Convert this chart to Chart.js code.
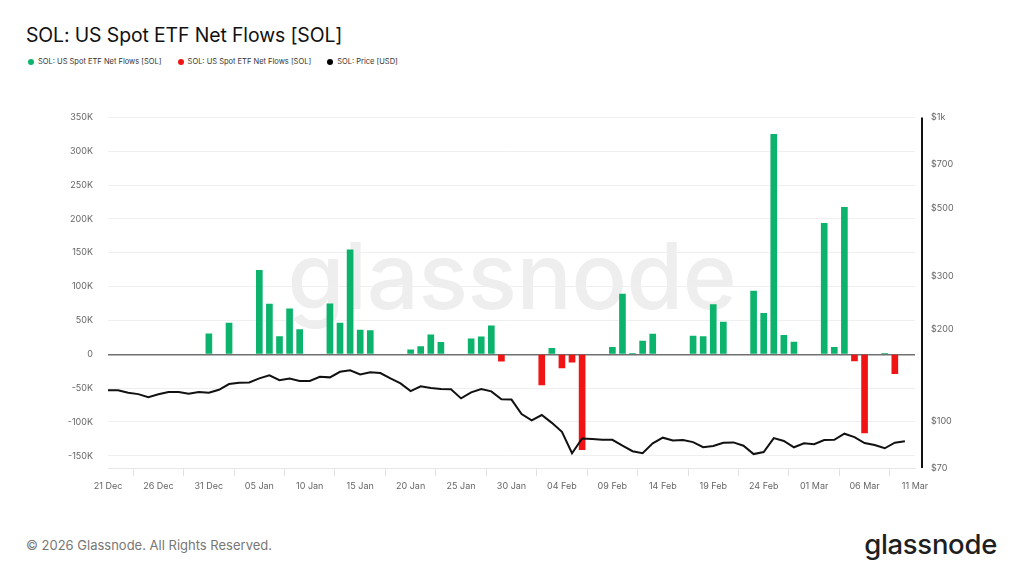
<!DOCTYPE html>
<html>
<head>
<meta charset="utf-8">
<script src="https://cdn.jsdelivr.net/npm/chart.js@4"></script>
<style>
    body { margin: 0; background: #fff; font-family: Inter, 'Noto Sans', sans-serif; }
    .page { position: relative; width: 1024px; height: 576px; overflow: hidden; background: #fff; }
    .title { position: absolute; left: 26px; top: 23px; font-size: 19.4px; color: #111; letter-spacing: -0.1px; }
    .legend { position: absolute; left: 28px; top: 57px; font-size: 7.5px; color: #333; display: flex; }
    .legend-item { display: flex; align-items: center; margin-right: 16px; }
    .dot { width: 6px; height: 6px; border-radius: 50%; margin-right: 4px; display: inline-block; }
    .watermark { position: absolute; left: 0; width: 1024px; top: 220px; text-align: center; font-size: 92px; font-weight: 500; color: #eeeeee; letter-spacing: -0.5px; }
    #chart { position: absolute; left: 0; top: 96px; }
    .footer { position: absolute; left: 26px; top: 537px; font-size: 13px; color: #777; }
    .logo { position: absolute; right: 27px; top: 527px; font-size: 27.5px; font-weight: 500; color: #1f1f1f; letter-spacing: -0.3px; }
</style>
</head>
<body>
<div class="page">
    <div class="title">SOL: US Spot ETF Net Flows [SOL]</div>
    <div class="legend">
        <div class="legend-item"><span class="dot" style="background:#0bb36c"></span>SOL: US Spot ETF Net Flows [SOL]</div>
        <div class="legend-item"><span class="dot" style="background:#f01414"></span>SOL: US Spot ETF Net Flows [SOL]</div>
        <div class="legend-item"><span class="dot" style="background:#000"></span>SOL: Price [USD]</div>
    </div>
    <div class="watermark">glassnode</div>
    <canvas id="chart" width="1024" height="410"></canvas>
    <div class="footer">© 2026 Glassnode. All Rights Reserved.</div>
    <div class="logo">glassnode</div>
</div>
<script>
// ===== DATA =====
// day index 0 = 21 Dec, one entry per day
const xTickDays = [0, 5, 10, 15, 20, 25, 30, 35, 40, 45, 50, 55, 60, 65, 70, 75, 80];
const xTickLabels = ['21 Dec', '26 Dec', '31 Dec', '05 Jan', '10 Jan', '15 Jan', '20 Jan', '25 Jan', '30 Jan',
    '04 Feb', '09 Feb', '14 Feb', '19 Feb', '24 Feb', '01 Mar', '06 Mar', '11 Mar'];

const flowTicks = [-150000, -100000, -50000, 0, 50000, 100000, 150000, 200000, 250000, 300000, 350000];
const priceTicks = [70, 100, 200, 300, 500, 700, 1000];

const netFlows = [
    null, null, null, null, null, null, null, null, null, null,
    30400, null, 46200, null, null, 124000, 74300, 26000, 67300, 36400,
    null, null, 74700, 46200, 154500, 35900, 34900, null, null, null,
    6500, 11400, 28600, 17700, null, null, 22700, 25700, 42000, -10300,
    null, null, null, -45200, 8900, -20000, -11800, -141000, null, null,
    10400, 89000, 1500, 19600, 30000, null, null, null, 27000, 26000,
    73300, 47700, null, null, 93500, 60500, 325000, 28000, 18200, null,
    null, 193400, 10300, 217000, -9800, -116000, null, 1000, -28600, null
];

const price = [
    126.2, 126.2, 123.8, 122.6, 119.8, 122.4, 124.5, 124.5, 122.9, 124.5,
    123.8, 126.7, 132.3, 133.6, 134.0, 138.1, 141.3, 136.3, 138.1, 135.5,
    135.5, 139.8, 139.2, 145.2, 146.8, 142.4, 144.6, 143.8, 138.1, 133.0,
    125.4, 130.0, 128.4, 127.4, 127.1, 118.7, 124.3, 127.4, 125.2, 117.9,
    117.6, 105.4, 100.4, 104.6, 98.6, 92.1, 78.3, 87.6, 87.2, 86.7,
    86.7, 82.9, 79.5, 78.3, 84.4, 88.1, 86.3, 86.5, 85.2, 82.0,
    82.7, 84.8, 85.0, 82.9, 77.8, 79.0, 87.8, 85.9, 81.9, 84.4,
    83.8, 86.5, 86.7, 90.8, 88.5, 84.6, 83.3, 81.3, 84.8, 85.7
];

// ===== BUILD DATASETS =====
const inflowPoints = netFlows.map((v, i) => ({ x: i, y: v !== null && v > 0 ? v : null }));
const outflowPoints = netFlows.map((v, i) => ({ x: i, y: v !== null && v < 0 ? v : null }));
const pricePoints = price.map((v, i) => ({ x: i, y: v }));

function formatFlow(v) {
    if (v === 0) return '0';
    return (v / 1000) + 'K';
}

// right axis line sits a bit outside the plot area
const rightAxisLine = {
    id: 'rightAxisLine',
    afterDraw(chart) {
        const { ctx, chartArea } = chart;
        ctx.save();
        ctx.strokeStyle = '#111';
        ctx.lineWidth = 2;
        ctx.beginPath();
        ctx.moveTo(chartArea.right + 7, chartArea.top);
        ctx.lineTo(chartArea.right + 7, chartArea.bottom);
        ctx.stroke();
        ctx.restore();
    }
};

const tickFont = { size: 9, family: "Inter, 'Noto Sans', sans-serif" };

new Chart(document.getElementById('chart'), {
    type: 'bar',
    data: {
        datasets: [
            {
                type: 'line',
                label: 'SOL: Price [USD]',
                data: pricePoints,
                yAxisID: 'yPrice',
                borderColor: '#111',
                borderWidth: 2,
                pointRadius: 0,
                tension: 0,
                order: 0
            },
            {
                label: 'SOL: US Spot ETF Net Flows [SOL]',
                data: inflowPoints,
                yAxisID: 'yFlow',
                backgroundColor: '#0bb36c',
                barThickness: 6,
                grouped: false,
                order: 1
            },
            {
                label: 'SOL: US Spot ETF Net Flows [SOL]',
                data: outflowPoints,
                yAxisID: 'yFlow',
                backgroundColor: '#f01414',
                barThickness: 6,
                grouped: false,
                order: 1
            }
        ]
    },
    options: {
        responsive: false,
        animation: false,
        layout: { padding: { top: 13, left: 0, right: 0, bottom: 0 } },
        plugins: {
            legend: { display: false },
            tooltip: { enabled: false }
        },
        scales: {
            x: {
                type: 'linear',
                min: 0,
                max: 80,
                offset: false,
                afterBuildTicks: (scale) => { scale.ticks = xTickDays.map(v => ({ value: v })); },
                afterFit: (scale) => { scale.height = 38; },
                grid: { drawOnChartArea: false, tickLength: 8, color: '#e2e2e2' },
                border: { color: '#e6e6e6' },
                ticks: {
                    color: '#666',
                    font: tickFont,
                    padding: 5,
                    maxRotation: 0,
                    autoSkip: false,
                    callback: (v) => xTickLabels[xTickDays.indexOf(v)]
                }
            },
            yFlow: {
                type: 'linear',
                position: 'left',
                min: -168000,
                max: 350000,
                afterBuildTicks: (scale) => { scale.ticks = flowTicks.map(v => ({ value: v })); },
                afterFit: (scale) => { scale.width = 108; },
                grid: {
                    drawTicks: false,
                    color: (c) => c.tick && c.tick.value === 0 ? '#707070' : '#efefef',
                    lineWidth: (c) => c.tick && c.tick.value === 0 ? 1.5 : 1
                },
                border: { display: false },
                ticks: { color: '#666', font: tickFont, padding: 15, callback: formatFlow }
            },
            yPrice: {
                type: 'logarithmic',
                position: 'right',
                min: 70,
                max: 1000,
                afterBuildTicks: (scale) => { scale.ticks = priceTicks.map(v => ({ value: v })); },
                afterFit: (scale) => { scale.width = 109; },
                grid: { drawOnChartArea: false, drawTicks: false },
                border: { display: false },
                ticks: {
                    color: '#666',
                    font: tickFont,
                    padding: 16,
                    callback: (v) => v >= 1000 ? '$1k' : '$' + v
                }
            }
        }
    },
    plugins: [rightAxisLine]
});
</script>
</body>
</html>
